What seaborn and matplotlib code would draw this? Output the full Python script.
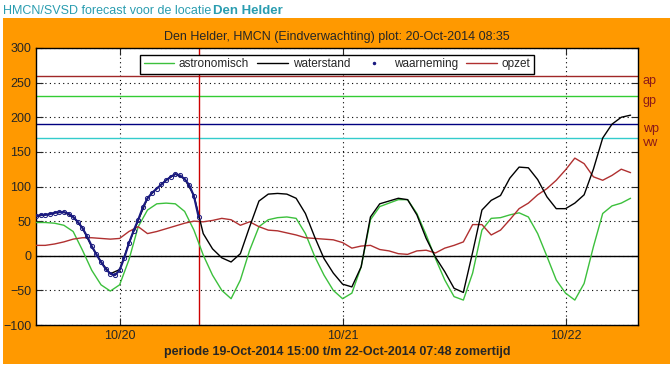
import pandas as pd
import seaborn as sns
import matplotlib.pyplot as plt
import matplotlib.dates as mdates
from matplotlib.lines import Line2D
from matplotlib.patches import Rectangle

# hourly forecast values from 19-Oct-2014 15:00 (cm)
astronomisch = [48, 48, 47, 44, 35, 8, -21, -42, -51, -42, -6, 42, 66, 75, 76, 75, 64, 37, 1, -28,
                -50, -62, -35, 8, 42, 52, 55, 56, 54, 32, -1, -28, -50, -62, -54, -16, 52, 71, 76, 81,
                81, 61, 30, -4, -35, -59, -64, -25, 37, 54, 55, 59, 62, 56, 32, -1, -35, -54, -64, -40,
                13, 61, 72, 76, 83]
waterstand = [57, 59, 62, 63, 56, 40, 13, -9, -26, -20, 18, 51, 83, 97, 109, 118, 111, 87, 32, 10,
              -3, -9, 3, 42, 79, 89, 90, 89, 83, 61, 27, -4, -25, -41, -45, -16, 56, 75, 79, 83,
              81, 59, 25, -2, -23, -47, -53, 5, 66, 80, 87, 112, 128, 127, 110, 85, 68, 68, 76, 88,
              125, 170, 190, 200, 203]
opzet = [15, 15, 17, 20, 24, 26, 26, 25, 24, 25, 35, 42, 32, 35, 39, 43, 47, 50, 49, 51,
         54, 52, 44, 49, 42, 37, 36, 33, 30, 26, 25, 24, 23, 19, 11, 14, 15, 9, 7, 3,
         2, 7, 8, 4, 11, 15, 20, 45, 45, 30, 37, 52, 68, 76, 88, 97, 109, 124, 141, 133,
         114, 109, 116, 125, 120]
# half-hourly observations up to the plot time
waarneming = [57, 59, 59, 60, 62, 63, 63, 61, 56, 49, 40, 28, 14, 2, -9, -19, -26, -28, -21, -3,
              18, 36, 52, 70, 83, 91, 97, 103, 109, 114, 118, 116, 111, 102, 86, 56]

# threshold levels (cm)
niveau_namen = ["ap", "gp", "wp", "vw"]
niveau_waarden = [260, 230, 190, 170]
niveau_kleuren = ["#a02828", "#33cc33", "#000080", "#33cccc"]

tijden = pd.date_range("2014-10-19 15:00", periods=len(waterstand), freq="h")
obs_tijden = pd.date_range("2014-10-19 15:00", periods=len(waarneming), freq="30min")
df = pd.DataFrame({"tijd": tijden, "astronomisch": astronomisch,
                   "waterstand": waterstand, "opzet": opzet})
obs = pd.DataFrame({"tijd": obs_tijden, "waarneming": waarneming})

sns.set_style("ticks")
plt.rcParams['font.family'] = ['Liberation Sans', 'DejaVu Sans']

fig = plt.figure(figsize=(6.7, 3.67), dpi=100, facecolor="white")
fig.patches.append(Rectangle((3 / 670, 3 / 367), 667 / 670, 346 / 367, transform=fig.transFigure,
                             facecolor="#ff9900", edgecolor="none", zorder=-10))
fig.text(3 / 670, 1 - 11 / 367, "HMCN/SVSD forecast voor de locatie", color="#2a9db0",
         fontsize=9, va="center", ha="left")
fig.text(213 / 670, 1 - 11 / 367, "Den Helder", color="#2a9db0", fontsize=9.5,
         fontweight="bold", va="center", ha="left")

ax = fig.add_axes([36 / 670, 1 - 325 / 367, 602 / 670, 277 / 367])
ax.set_facecolor("white")

for naam, waarde, kleur in zip(niveau_namen, niveau_waarden, niveau_kleuren):
    ax.axhline(waarde, color=kleur, lw=1, zorder=2)
    ax.text(1.008, waarde - 7, naam, transform=ax.get_yaxis_transform(), color="#8b1a1a",
            fontsize=9, va="center", ha="left")
ax.axhline(0, color="black", lw=1, zorder=2)
ax.axvline(pd.Timestamp("2014-10-20 08:35"), color="#cc0000", lw=1, zorder=2)

sns.lineplot(data=df, x="tijd", y="astronomisch", color="#3cc03c", lw=1, ax=ax, zorder=3)
sns.lineplot(data=df, x="tijd", y="opzet", color="#b03030", lw=1, ax=ax, zorder=3)
sns.lineplot(data=df, x="tijd", y="waterstand", color="black", lw=1, ax=ax, zorder=4)
sns.lineplot(data=obs, x="tijd", y="waarneming", color="#1a1a80", lw=1.5, marker="o", ms=3,
             mfc="none", mec="#1a1a80", mew=0.7, ax=ax, zorder=5)

ax.set_xlim(pd.Timestamp("2014-10-19 15:00"), pd.Timestamp("2014-10-22 07:48"))
ax.set_ylim(-100, 300)
ax.set_yticks(range(-100, 301, 50))
ax.xaxis.set_major_locator(mdates.DayLocator())
ax.xaxis.set_major_formatter(mdates.DateFormatter("%m/%d"))
ax.grid(True, ls=(0, (1, 3)), color="black", lw=0.8)
ax.tick_params(direction="in", top=True, right=True, labelsize=9, length=5)
for s in ax.spines.values():
    s.set_color("black")
    s.set_linewidth(1)
ax.set_xlabel("periode 19-Oct-2014 15:00 t/m 22-Oct-2014 07:48 zomertijd", fontsize=9,
              fontweight="bold", labelpad=3)
ax.set_ylabel("")
ax.set_title("Den Helder, HMCN (Eindverwachting) plot: 20-Oct-2014 08:35", fontsize=9, pad=6)

handles = [Line2D([], [], color="#3cc03c", lw=1),
           Line2D([], [], color="black", lw=1),
           Line2D([], [], color="#1a1a80", lw=0, marker=".", ms=3),
           Line2D([], [], color="#b03030", lw=1)]
leg = ax.legend(handles, ["astronomisch", "waterstand", "waarneming", "opzet"], ncol=4,
                loc="upper center", bbox_to_anchor=(0.5, 0.975), fontsize=8.5, frameon=True,
                fancybox=False, edgecolor="black", framealpha=1, handlelength=2.6,
                borderpad=0.3, columnspacing=0.7, handletextpad=0.4, borderaxespad=0)
leg.get_frame().set_linewidth(1)

fig.savefig("out.png", dpi=100, facecolor="white")
